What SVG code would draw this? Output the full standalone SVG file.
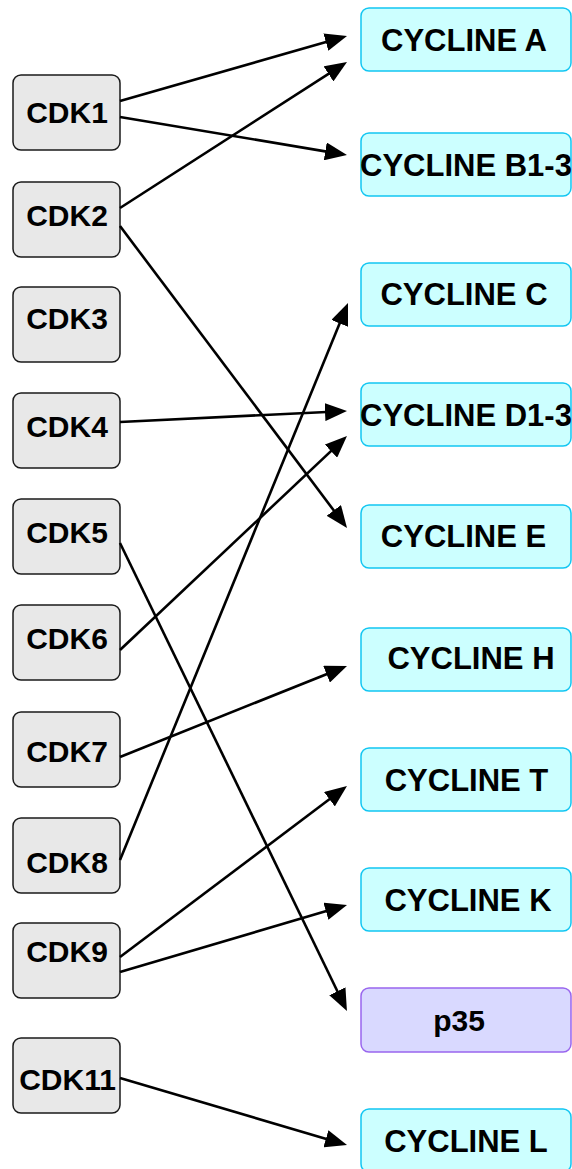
<svg xmlns="http://www.w3.org/2000/svg" width="572" height="1169" viewBox="0 0 572 1169">
  <style>
    .cdk rect { fill: #e8e8e8; stroke: #1a1a1a; stroke-width: 1.5; }
    .cyc rect { fill: #ccffff; stroke: #12c6f2; stroke-width: 1.5; }
    .p35 rect { fill: #d9d9ff; stroke: #9966ee; stroke-width: 1.5; }
    text { font-family: "Liberation Sans", Arial, sans-serif; font-weight: bold; fill: #000; }
    .cdk text { font-size: 30px; text-anchor: middle; }
    .cyc text, .p35 text { font-size: 31px; text-anchor: middle; }
    .edges line { stroke: #000; stroke-width: 2.6; marker-end: url(#arrow); }
  </style>
  <defs>
    <marker id="arrow" viewBox="0 0 22 18" refX="12" refY="9" markerWidth="22" markerHeight="18" markerUnits="userSpaceOnUse" orient="auto">
      <path d="M0,0 L22,9 L0,18 z" fill="#000"/>
    </marker>
  </defs>

  <!-- CDK column -->
  <g id="CDK1" class="cdk"><rect x="13" y="75" width="107" height="75" rx="8"/><text x="67" y="122.5">CDK1</text></g>
  <g id="CDK2" class="cdk"><rect x="13" y="182" width="107" height="75" rx="8"/><text x="67" y="225.5">CDK2</text></g>
  <g id="CDK3" class="cdk"><rect x="13" y="287" width="107" height="75" rx="8"/><text x="67" y="329">CDK3</text></g>
  <g id="CDK4" class="cdk"><rect x="13" y="393" width="107" height="75" rx="8"/><text x="67" y="436.5">CDK4</text></g>
  <g id="CDK5" class="cdk"><rect x="13" y="499" width="107" height="75" rx="8"/><text x="67" y="542.5">CDK5</text></g>
  <g id="CDK6" class="cdk"><rect x="13" y="605" width="107" height="75" rx="8"/><text x="67" y="648.5">CDK6</text></g>
  <g id="CDK7" class="cdk"><rect x="13" y="712" width="107" height="75" rx="8"/><text x="67" y="761.5">CDK7</text></g>
  <g id="CDK8" class="cdk"><rect x="13" y="818" width="107" height="75" rx="8"/><text x="67" y="873">CDK8</text></g>
  <g id="CDK9" class="cdk"><rect x="13" y="923" width="107" height="75" rx="8"/><text x="67" y="961.5">CDK9</text></g>
  <g id="CDK11" class="cdk"><rect x="13" y="1038" width="107" height="75" rx="8"/><text x="67.5" y="1090">CDK11</text></g>

  <!-- cyclin / partner column -->
  <g id="CYCLINE_A" class="cyc"><rect x="361" y="8" width="210" height="63" rx="8"/><text x="464" y="50.7">CYCLINE A</text></g>
  <g id="CYCLINE_B1-3" class="cyc"><rect x="361" y="133" width="210" height="63" rx="8"/><text x="360" y="175.7" style="text-anchor:start">CYCLINE B1-3</text></g>
  <g id="CYCLINE_C" class="cyc"><rect x="361" y="263" width="210" height="63" rx="8"/><text x="464" y="305">CYCLINE C</text></g>
  <g id="CYCLINE_D1-3" class="cyc"><rect x="361" y="383" width="210" height="63" rx="8"/><text x="360" y="425.5" style="text-anchor:start">CYCLINE D1-3</text></g>
  <g id="CYCLINE_E" class="cyc"><rect x="361" y="505" width="210" height="63" rx="8"/><text x="463.5" y="547.3">CYCLINE E</text></g>
  <g id="CYCLINE_H" class="cyc"><rect x="361" y="628" width="210" height="63" rx="8"/><text x="471" y="669.3">CYCLINE H</text></g>
  <g id="CYCLINE_T" class="cyc"><rect x="361" y="748" width="210" height="63" rx="8"/><text x="466.5" y="791">CYCLINE T</text></g>
  <g id="CYCLINE_K" class="cyc"><rect x="361" y="868" width="210" height="63" rx="8"/><text x="468" y="910.7">CYCLINE K</text></g>
  <g id="p35" class="p35"><rect x="361" y="988" width="210" height="64" rx="8"/><text x="459" y="1031" style="font-size:30px">p35</text></g>
  <g id="CYCLINE_L" class="cyc"><rect x="361" y="1109" width="210" height="63" rx="8"/><text x="466" y="1151.7">CYCLINE L</text></g>

  <!-- connectors -->
  <g id="edges" class="edges">
    <line x1="120" y1="101" x2="337.4" y2="38.75"/>
    <line x1="120" y1="117" x2="337.1" y2="153.35"/>
    <line x1="120" y1="208" x2="338.6" y2="67.4"/>
    <line x1="120" y1="226" x2="341.0" y2="520.0"/>
    <line x1="120" y1="860" x2="344.2" y2="312.3"/>
    <line x1="120" y1="422" x2="337.0" y2="411.5"/>
    <line x1="120" y1="650" x2="339.7" y2="442.9"/>
    <line x1="120" y1="543" x2="342.6" y2="1002.0"/>
    <line x1="120" y1="757" x2="337.7" y2="669.7"/>
    <line x1="120" y1="957" x2="339.0" y2="792.0"/>
    <line x1="120" y1="972" x2="337.4" y2="907.8"/>
    <line x1="120" y1="1078" x2="337.4" y2="1142.2"/>
  </g>
</svg>
